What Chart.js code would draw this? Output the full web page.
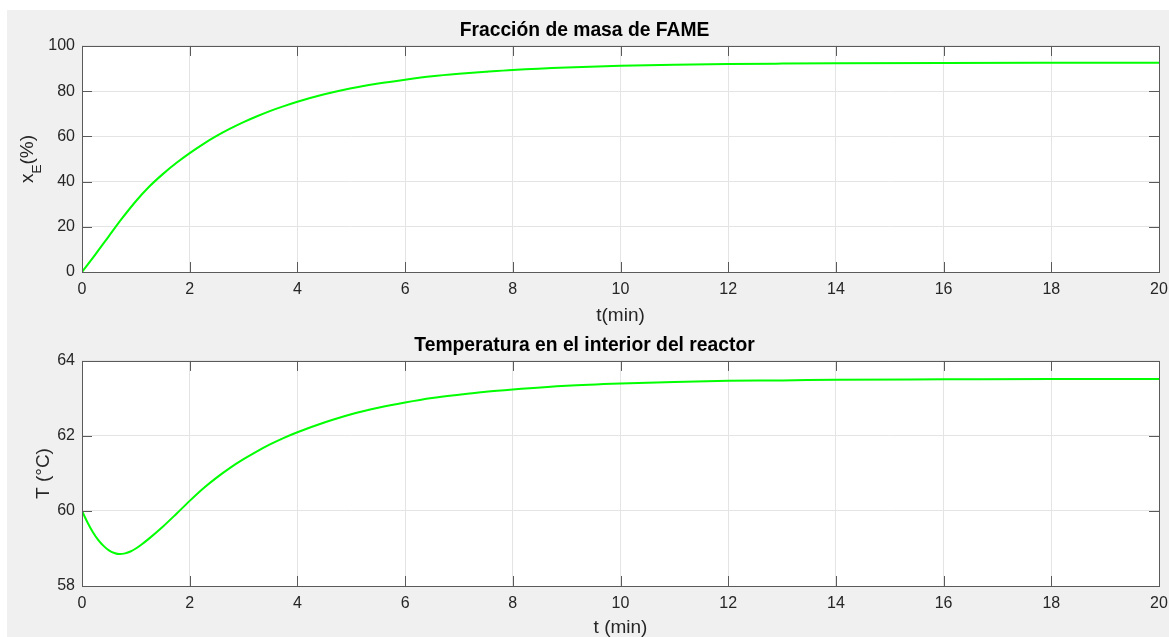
<!DOCTYPE html>
<html lang="es">
<head>
<meta charset="utf-8">
<title>Reactor de transesterificación</title>
<script src="https://cdn.jsdelivr.net/npm/chart.js@4.4.1/dist/chart.umd.min.js"></script>
<style>
  html, body { margin: 0; padding: 0; background: #fff; overflow: hidden; }
  /* fondo gris de la figura */
  .figura { position: absolute; left: 7px; top: 10px; right: 0; bottom: 0; background: #f0f0f0; }
  canvas { position: absolute; left: 0; }
  #graficoFAME { top: 0; }
  #graficoTemp { top: 330px; }
</style>
</head>
<body>
<div class="figura"></div>
<canvas id="graficoFAME" width="1169" height="330"></canvas>
<canvas id="graficoTemp" width="1169" height="315"></canvas>
<script>
/* tiempo (min) y fracción de masa de FAME (%) */
const tiempoFAME = [0, 0.25, 0.5, 0.75, 1, 1.25, 1.5, 1.75, 2, 2.25, 2.5, 2.75, 3, 3.25, 3.5, 3.75, 4,
  4.5, 5, 5.5, 6, 6.5, 7, 7.5, 8, 9, 10, 11, 12, 13, 14, 16, 18, 20];
const fraccionFAME = [0, 7.8, 15.9, 23.9, 31.3, 37.8, 43.3, 48.2, 52.6, 56.6, 60.2, 63.4, 66.3, 68.9, 71.3, 73.4, 75.3,
  78.6, 81.3, 83.4, 85.1, 86.6, 87.7, 88.6, 89.4, 90.5, 91.2, 91.7, 92.0, 92.2, 92.35, 92.49, 92.55, 92.58];

/* tiempo (min) y temperatura en el interior del reactor (ºC) */
const tiempoTemp = [0, 0.1, 0.2, 0.3, 0.4, 0.5, 0.6, 0.7, 0.8, 0.9, 1, 1.1, 1.25, 1.5, 1.75, 2, 2.25, 2.5, 2.75,
  3, 3.25, 3.5, 3.75, 4, 4.5, 5, 5.5, 6, 6.5, 7, 7.5, 8, 9, 10, 11, 12, 13, 14, 16, 18, 20];
const temperatura = [60.0, 59.7, 59.44, 59.23, 59.07, 58.95, 58.88, 58.85, 58.87, 58.92, 59.0, 59.1, 59.27, 59.58,
  59.92, 60.27, 60.6, 60.89, 61.15, 61.38, 61.59, 61.78, 61.95, 62.1, 62.36, 62.58, 62.75, 62.89, 63.01, 63.1,
  63.18, 63.24, 63.34, 63.4, 63.44, 63.47, 63.48, 63.5, 63.51, 63.52, 63.52];

/* marcas de los ejes */
const ticksTiempo = { min: 0, max: 20, paso: 2 };
const ticksFAME = { min: 0, max: 100, paso: 20 };
const ticksTemp = { min: 58, max: 64, paso: 2 };

const FUENTE = '"Liberation Sans", Arial, Helvetica, sans-serif';
const COLOR_TEXTO = '#262626';

/* fondo blanco, caja y marcas interiores al estilo MATLAB */
const ejesCaja = {
  id: 'ejesCaja',
  beforeDraw(chart) {
    const { ctx, chartArea: a } = chart;
    ctx.save();
    ctx.fillStyle = '#fff';
    ctx.fillRect(a.left, a.top, a.right - a.left, a.bottom - a.top);
    ctx.restore();
  },
  afterDraw(chart) {
    const { ctx, chartArea: a, scales } = chart;
    const L = 10;
    ctx.save();
    ctx.strokeStyle = '#5a5a5a';
    ctx.lineWidth = 1;
    ctx.beginPath();
    scales.x.ticks.forEach((t) => {
      const px = Math.round(scales.x.getPixelForValue(t.value)) + 0.5;
      ctx.moveTo(px, a.bottom);
      ctx.lineTo(px, a.bottom - L);
      ctx.moveTo(px, a.top);
      ctx.lineTo(px, a.top + L);
    });
    scales.y.ticks.forEach((t) => {
      const py = Math.round(scales.y.getPixelForValue(t.value)) + 0.5;
      ctx.moveTo(a.left, py);
      ctx.lineTo(a.left + L, py);
      ctx.moveTo(a.right, py);
      ctx.lineTo(a.right - L, py);
    });
    ctx.stroke();
    ctx.strokeRect(Math.round(a.left) + 0.5, Math.round(a.top) + 0.5,
      Math.round(a.right - a.left), Math.round(a.bottom - a.top));
    ctx.restore();
  },
};

/* etiqueta x_E(%) con subíndice */
const etiquetaXE = {
  id: 'etiquetaXE',
  afterDraw(chart) {
    if (chart.canvas.id !== 'graficoFAME') return;
    const { ctx, chartArea: a } = chart;
    const fNormal = '19px ' + FUENTE;
    const fSub = '13.5px ' + FUENTE;
    ctx.save();
    ctx.translate(33, (a.top + a.bottom) / 2);
    ctx.rotate(-Math.PI / 2);
    ctx.fillStyle = COLOR_TEXTO;
    ctx.textAlign = 'left';
    ctx.textBaseline = 'alphabetic';
    ctx.font = fNormal;
    const wx = ctx.measureText('x').width;
    const wp = ctx.measureText('(%)').width;
    ctx.font = fSub;
    const wE = ctx.measureText('E').width;
    const x0 = -(wx + wE + wp) / 2;
    ctx.font = fNormal;
    ctx.fillText('x', x0, 0);
    ctx.font = fSub;
    ctx.fillText('E', x0 + wx, 8);
    ctx.font = fNormal;
    ctx.fillText('(%)', x0 + wx + wE, 0);
    ctx.restore();
  },
};

function crearGrafico(id, titulo, tiempo, valores, ejeY, etiquetaX, etiquetaY, pos) {
  const puntos = tiempo.map((t, i) => ({ x: t, y: valores[i] }));
  return new Chart(document.getElementById(id), {
    type: 'line',
    data: {
      datasets: [{
        data: puntos,
        borderColor: '#00ff00',
        borderWidth: 2,
        pointRadius: 0,
        cubicInterpolationMode: 'monotone',
        fill: false,
      }],
    },
    options: {
      responsive: false,
      animation: false,
      events: [],
      layout: { padding: 0 },
      plugins: {
        legend: { display: false },
        tooltip: { enabled: false },
        title: {
          display: true,
          text: titulo,
          color: '#000',
          font: { family: FUENTE, size: 19.3, weight: 'bold' },
          padding: { top: pos.tituloArriba, bottom: pos.tituloAbajo },
        },
      },
      scales: {
        x: {
          type: 'linear',
          min: ticksTiempo.min,
          max: ticksTiempo.max,
          afterFit: (scale) => {
            scale.height = pos.altoX;
            scale.paddingLeft = 0;
            scale.paddingRight = 10;
          },
          grid: { color: '#e4e4e4', drawTicks: false },
          border: { display: false },
          ticks: {
            stepSize: ticksTiempo.paso,
            autoSkip: false,
            maxRotation: 0,
            padding: 8,
            color: COLOR_TEXTO,
            font: { family: FUENTE, size: 16 },
          },
          title: {
            display: true,
            text: etiquetaX,
            color: COLOR_TEXTO,
            font: { family: FUENTE, size: 19 },
            padding: { top: 0, bottom: pos.etiquetaXAbajo },
          },
        },
        y: {
          type: 'linear',
          min: ejeY.min,
          max: ejeY.max,
          afterFit: (scale) => { scale.width = 82; },
          grid: { color: '#e4e4e4', drawTicks: false },
          border: { display: false },
          ticks: {
            stepSize: ejeY.paso,
            padding: 7,
            color: COLOR_TEXTO,
            font: { family: FUENTE, size: 16 },
          },
          title: {
            display: etiquetaY !== '',
            text: etiquetaY,
            color: COLOR_TEXTO,
            font: { family: FUENTE, size: 19 },
            padding: { top: 32, bottom: 0 },
          },
        },
      },
    },
    plugins: [ejesCaja, etiquetaXE],
  });
}

crearGrafico('graficoFAME', 'Fracción de masa de FAME', tiempoFAME, fraccionFAME, ticksFAME,
  't(min)', '', { tituloArriba: 18.7, tituloAbajo: 4.1, altoX: 58, etiquetaXAbajo: 3.1 });

crearGrafico('graficoTemp', 'Temperatura en el interior del reactor', tiempoTemp, temperatura, ticksTemp,
  't (min)', 'T (°C)', { tituloArriba: 3.7, tituloAbajo: 4.1, altoX: 59, etiquetaXAbajo: 5.6 });
</script>
</body>
</html>
